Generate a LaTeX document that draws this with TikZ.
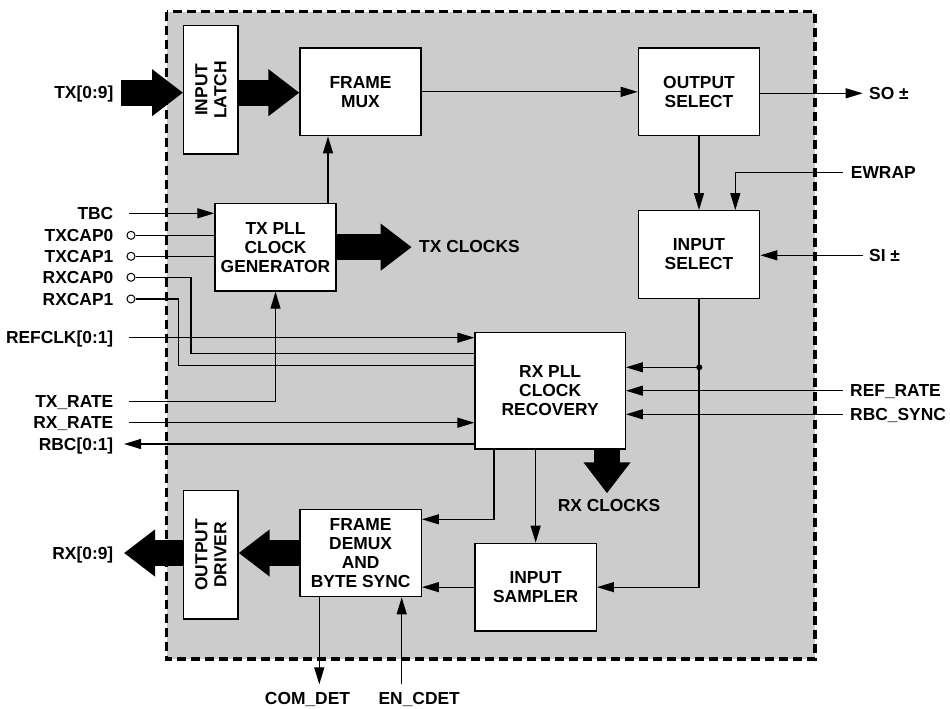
\documentclass[tikz,border=0pt]{standalone}
\usepackage{fontspec}
\setmainfont{Liberation Sans}
\usetikzlibrary{arrows.meta}
\definecolor{bggray}{HTML}{CCCCCC}
\newcommand\dfont{\fontsize{17.4bp}{19bp}\selectfont\bfseries}
\tikzset{
 box/.style={draw, fill=white, line width=1.3bp, inner sep=0pt, align=center, font=\dfont},
 boxtxt/.style={inner sep=0pt, align=center, font=\dfont},
 lbl/.style={inner sep=0pt, font=\dfont, text height=12.4bp, text depth=0bp},
 wire/.style={line width=1.2bp},
 arr/.style={wire, -{Triangle[length=17bp,width=10bp]}},
 fat/.style={line width=26bp, -{Triangle[length=31bp,width=45bp]}},
 pin/.style={circle, draw, fill=white, line width=1bp, minimum size=8bp, inner sep=0pt},
}
\begin{document}
\begin{tikzpicture}[x=1bp,y=-1bp]
\useasboundingbox (0,0) rectangle (950,709);
\fill[bggray] (166.7,11.7) rectangle (815,659);
\draw[line width=3.3bp, dash pattern=on 9bp off 5bp] (166.7,11.7) rectangle (815,659);

% blocks
\node[box, minimum width=54.3bp, minimum height=128.3bp] (latch) at (210.85,89.85) {};
\node[boxtxt, rotate=90] (latchtxt) at (latch.center) {INPUT\\LATCH};
\node[box, minimum width=121bp, minimum height=87.7bp] (mux) at (360.5,91.85) {FRAME\\MUX};
\node[box, minimum width=121.4bp, minimum height=87.7bp] (outsel) at (699,91.85) {OUTPUT\\SELECT};
\node[box, minimum width=121.4bp, minimum height=87.6bp] (insel) at (699,254.5) {INPUT\\SELECT};
\node[box, minimum width=121bp, minimum height=87.7bp] (txpll) at (275.5,247.15) {TX PLL\\CLOCK\\GENERATOR};
\node[box, minimum width=150.3bp, minimum height=116.3bp] (rxpll) at (550.15,390.85) {RX PLL\\CLOCK\\RECOVERY};
\node[box, minimum width=121.3bp, minimum height=87.7bp] (sampler) at (535.65,587.15) {INPUT\\SAMPLER};
\node[box, minimum width=121.3bp, minimum height=87.4bp] (demux) at (360.65,553) {FRAME\\DEMUX\\AND\\BYTE SYNC};
\node[box, minimum width=54.3bp, minimum height=128.3bp] (driver) at (210.85,554.85) {};
\node[boxtxt, rotate=90] (drivertxt) at (driver.center) {OUTPUT\\DRIVER};

% left labels
\node[lbl, anchor=east] (tx) at (113.5,92.7) {TX[0:9]};
\node[lbl, anchor=east] (tbc) at (113.5,213.3) {TBC};
\node[lbl, anchor=east] (txcap0) at (113.5,235.3) {TXCAP0};
\node[lbl, anchor=east] (txcap1) at (113.5,256.3) {TXCAP1};
\node[lbl, anchor=east] (rxcap0) at (113.5,277.3) {RXCAP0};
\node[lbl, anchor=east] (rxcap1) at (113.5,299) {RXCAP1};
\node[lbl, anchor=east] (refclk) at (113.5,337.7) {REFCLK[0:1]};
\node[lbl, anchor=east] (txrate) at (113.5,401.3) {TX\_RATE};
\node[lbl, anchor=east] (rxrate) at (113.5,422.7) {RX\_RATE};
\node[lbl, anchor=east] (rbc) at (113.5,444) {RBC[0:1]};
\node[lbl, anchor=east] (rx) at (113.5,552.8) {RX[0:9]};

% right labels
\node[lbl, anchor=west] (so) at (869,93.3) {SO ±};
\node[lbl, anchor=west] (ewrap) at (850.7,172.3) {EWRAP};
\node[lbl, anchor=west] (si) at (869,255.3) {SI ±};
\node[lbl, anchor=west] (refrate) at (850,390.7) {REF\_RATE};
\node[lbl, anchor=west] (rbcsync) at (850,414.3) {RBC\_SYNC};
\node[lbl, anchor=west] (txclk) at (419,246.5) {TX CLOCKS};
\node[lbl] (rxclk) at (609,505) {RX CLOCKS};
\node[lbl] (comdet) at (307.5,698.3) {COM\_DET};
\node[lbl] (encdet) at (419.2,698.3) {EN\_CDET};

% pins
\node[pin] (p0) at (131,235.3) {};
\node[pin] (p1) at (131,256.3) {};
\node[pin] (p2) at (131,277.3) {};
\node[pin] (p3) at (131,299) {};

% helper coordinates
\coordinate (r0) at (191,353.3);
\coordinate (r1) at (178.3,365.7);
\coordinate (tm) at (328,0);
\coordinate (ew) at (735.3,172.3);
\coordinate (jn) at (699.3,367.3);
\coordinate (dm) at (494,519.3);
\coordinate (cd) at (319.3,684.3);
\coordinate (ec) at (401.7,684.3);
\coordinate (rxck) at (607,493.3);
\coordinate (txs) at (121,92.7);
\coordinate (txck) at (411.7,247.15);
\coordinate (rxt) at (124,553);
\coordinate (rbct) at (124,444);

% fat arrows
\draw[fat] (txs) -- (latch.west |- txs);
\draw[fat] (latch.east |- txs) -- (mux.west |- txs);
\draw[fat] (txpll.east) -- (txck);
\draw[fat] (demux.west |- rxt) -- (driver.east |- rxt);
\draw[fat] (driver.west |- rxt) -- (rxt);
\draw[fat] (rxpll.south -| rxck) -- (rxck);

% transmit side wires
\draw[arr] ([xshift=15.5bp]tbc.east) -- (txpll.west |- tbc.east);
\draw[wire] (p0.east) -- (txpll.west |- p0);
\draw[wire] (p1.east) -- (txpll.west |- p1);
\draw[wire] (p2.east) -| (r0) -- (rxpll.west |- r0);
\draw[wire] (p3.east) -| (r1) -- (rxpll.west |- r1);
\draw[arr] ([xshift=15.5bp]refclk.east) -- (rxpll.west |- refclk.east);
\draw[arr] ([xshift=15.5bp]txrate.east) -| (txpll.south);
\draw[arr] ([xshift=15.5bp]rxrate.east) -- (rxpll.west |- rxrate.east);
\draw[arr] (rxpll.west |- rbc.east) -- (rbct);
\draw[arr] (txpll.north -| tm) -- (mux.south -| tm);
\draw[arr] (mux.east) -- (outsel.west);
\draw[arr] (outsel.east |- so.west) -- ([xshift=-6.3bp]so.west);

% receive side wires
\draw[arr] (outsel.south) -- (insel.north);
\draw[arr] ([xshift=-7.7bp]ewrap.west) -- (ew) -- (ew |- insel.north);
\draw[arr] ([xshift=-6.3bp]si.west) -- (insel.east |- si.west);
\draw[arr] ([xshift=-7.3bp]refrate.west) -- (rxpll.east |- refrate.west);
\draw[arr] ([xshift=-7.3bp]rbcsync.west) -- (rxpll.east |- rbcsync.west);
\draw[arr] (insel.south) |- (sampler.east);
\draw[arr] (jn) -- (rxpll.east |- jn);
\fill (jn) circle (3bp);
\draw[arr] (rxpll.south -| dm) |- (demux.east |- dm);
\draw[arr] (rxpll.south -| sampler.north) -- (sampler.north);
\draw[arr] (sampler.west) -- (demux.east |- sampler.west);
\draw[arr] (demux.south -| cd) -- (cd);
\draw[arr] (ec) -- (demux.south -| ec);
\end{tikzpicture}
\end{document}
